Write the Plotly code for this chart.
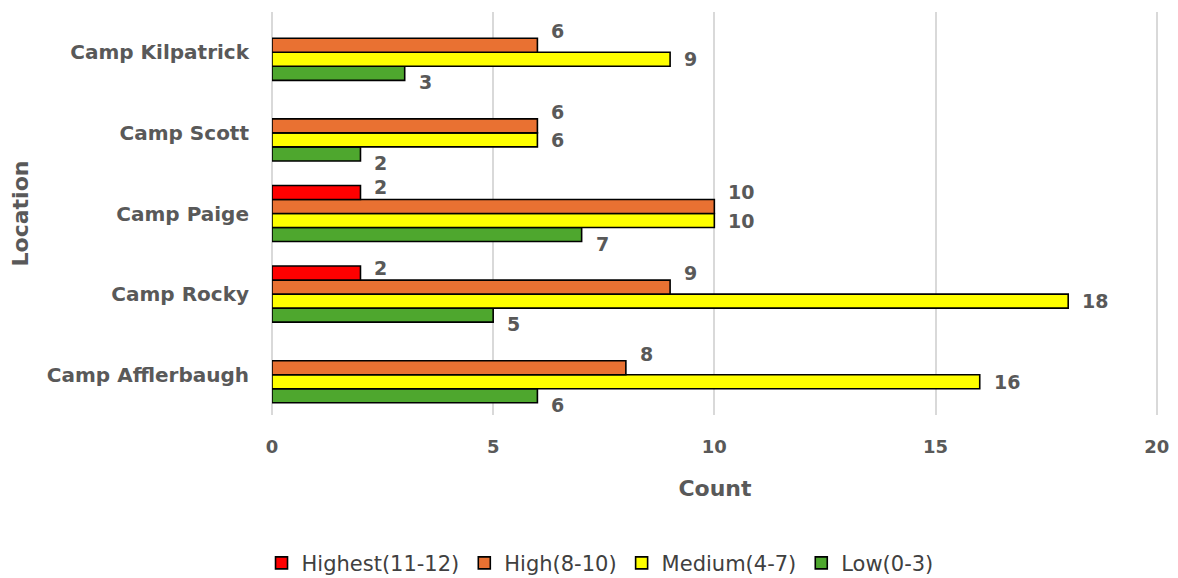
import plotly.graph_objects as go

categories = ["Camp Afflerbaugh", "Camp Rocky", "Camp Paige", "Camp Scott", "Camp Kilpatrick"]
highest = [None, 2, 2, None, None]
high = [8, 9, 10, 6, 6]
medium = [16, 18, 10, 6, 9]
low = [6, 5, 7, 2, 3]

FONT = "DejaVu Sans, Verdana, sans-serif"
LBL = "#595959"
W = 0.174  # bar thickness in category units

# (name, values, colour, slot within group from bottom, label y-shift px)
series = [
    ("Low(0-3)", low, "#4EA72E", 0, -9),
    ("Medium(4-7)", medium, "#FFFF00", 1, 0),
    ("High(8-10)", high, "#E97132", 2, 14),
    ("Highest(11-12)", highest, "#FF0000", 3, 5),
]

pos = list(range(len(categories)))
fig = go.Figure()
annotations = []
for name, vals, color, slot, ysh in series:
    off = (slot - 2) * W
    fig.add_trace(go.Bar(
        y=pos, x=vals, name=name, orientation="h",
        width=W, offset=off,
        marker=dict(color=color, line=dict(color="black", width=1.6)),
    ))
    for i, v in enumerate(vals):
        if v is None:
            continue
        annotations.append(dict(
            x=v, y=pos[i] + off + W / 2, xref="x", yref="y",
            text=str(v), showarrow=False, xanchor="left", yanchor="middle",
            xshift=12, yshift=ysh,
            font=dict(family=FONT, size=19, color=LBL, weight="bold"),
        ))

fig.update_layout(
    width=1170, height=570,
    barmode="overlay",
    plot_bgcolor="white", paper_bgcolor="white",
    margin=dict(l=264, r=20, t=4, b=163),
    font=dict(family=FONT, color=LBL),
    annotations=annotations,
    xaxis=dict(range=[0, 20.03], tickvals=[0, 5, 10, 15, 20], showgrid=True, gridcolor="#D9D9D9", gridwidth=2,
               zeroline=True, zerolinecolor="#D9D9D9", zerolinewidth=2,
               automargin=False, ticks="",
               tickfont=dict(family=FONT, size=18, weight="bold", color=LBL),
               ticklabelstandoff=19,
               title=dict(text="Count", font=dict(family=FONT, size=22, weight="bold", color=LBL), standoff=24)),
    yaxis=dict(range=[-0.5, 4.5], tickvals=pos, ticktext=categories,
               showgrid=False, zeroline=False, automargin=False, ticks="",
               tickfont=dict(family=FONT, size=20, weight="bold", color=LBL), ticklabelstandoff=22,
               title=dict(text="Location", font=dict(family=FONT, size=22, weight="bold", color=LBL), standoff=12)),
    legend=dict(orientation="h", xref="container", x=0.506, xanchor="center",
                yref="container", y=0.026, yanchor="middle",
                traceorder="reversed", font=dict(family=FONT, size=21, color="#404040")),
    showlegend=True,
)
fig.write_html("out.html")
